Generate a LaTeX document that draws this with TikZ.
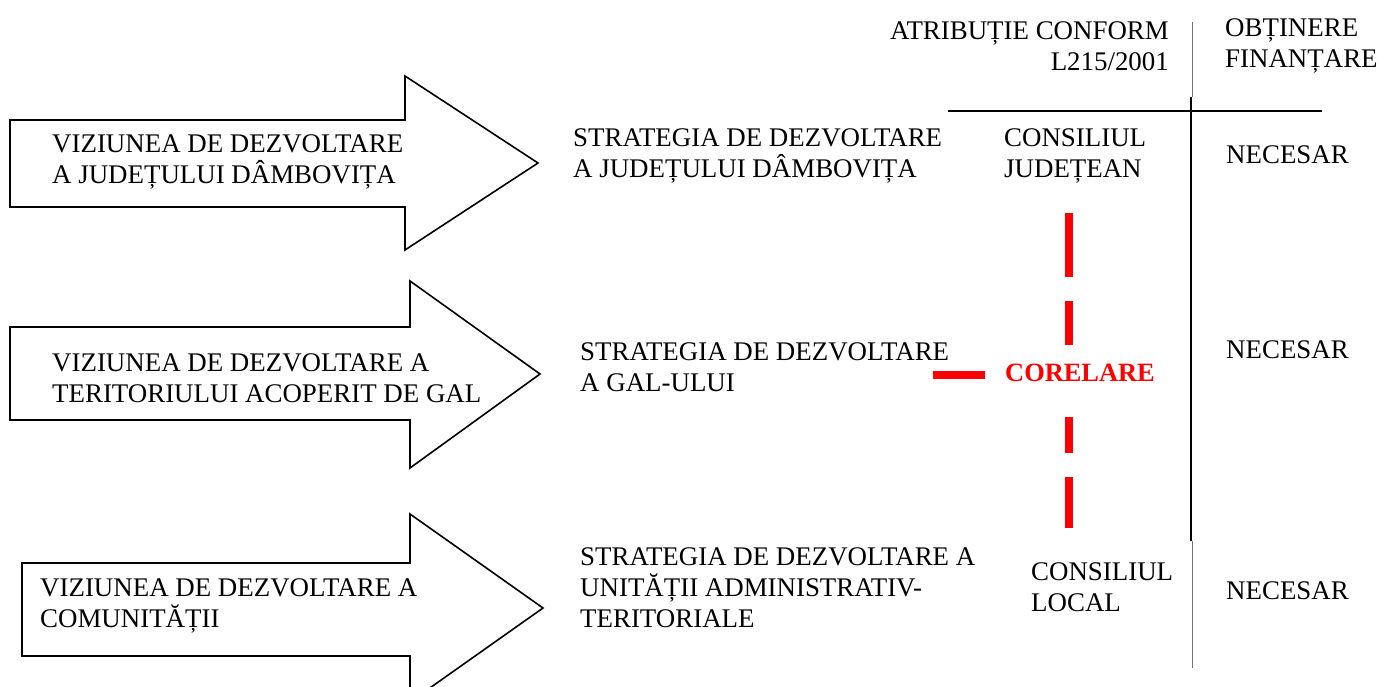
\documentclass[tikz,border=0pt]{standalone}
\usepackage{fontspec}
\setmainfont{Liberation Serif}
\begin{document}
\begin{tikzpicture}[x=1pt,y=-1pt,
  txt/.style={inner sep=0pt,align=left,font=\fontsize{26.9}{31}\selectfont},
  txtr/.style={inner sep=0pt,align=right,font=\fontsize{26.9}{31}\selectfont},
  bigarrow/.style={draw=black,line width=1.6pt,fill=white,line join=miter},
  redline/.style={draw=red,line width=7.5pt},
  thinrule/.style={draw=black!55,line width=1pt},
  thickrule/.style={draw=black,line width=2pt}]
\useasboundingbox (0,0) rectangle (1379,686);
% arrows
\draw[bigarrow] (10,120) -- (405,120) -- (405,76) -- (538,163) -- (405,250) -- (405,207) -- (10,207) -- cycle;
\draw[bigarrow] (10,327) -- (410,327) -- (410,281) -- (540,374) -- (410,468) -- (410,420) -- (10,420) -- cycle;
\draw[bigarrow] (22,563) -- (410,563) -- (410,514) -- (543,608) -- (410,702) -- (410,656) -- (22,656) -- cycle;
% arrow texts
\node[txt,anchor=west] (v1) at (52,162) {VIZIUNEA DE DEZVOLTARE\\A JUDEȚULUI DÂMBOVIȚA};
\node[txt,anchor=west] (v2) at (52,378) {VIZIUNEA DE DEZVOLTARE A\\TERITORIULUI ACOPERIT DE GAL};
\node[txt,anchor=west] (v3) at (40,606) {VIZIUNEA DE DEZVOLTARE A\\COMUNITĂȚII};
% strategies
\node[txt,anchor=west] (s1) at (573,156) {STRATEGIA DE DEZVOLTARE\\A JUDEȚULUI DÂMBOVIȚA};
\node[txt,anchor=west] (s2) at (580,367) {STRATEGIA DE DEZVOLTARE\\A GAL-ULUI};
\node[txt,anchor=west] (s3) at (580,588) {STRATEGIA DE DEZVOLTARE A\\UNITĂȚII ADMINISTRATIV-\\TERITORIALE};
% header
\node[txtr,anchor=east] (h1) at (1169,46) {ATRIBUȚIE CONFORM\\L215/2001};
\node[txt,anchor=west] (h2) at (1225,46) {OBȚINERE\\FINANȚARE};
% councils
\node[txt,anchor=west] (c1) at (1004,156) {CONSILIUL\\JUDEȚEAN};
\node[txt,anchor=west] (c3) at (1031,587) {CONSILIUL\\LOCAL};
% necesar
\node[txt,anchor=west] (n1) at (1226,155) {NECESAR};
\node[txt,anchor=west] (n2) at (1226,350) {NECESAR};
\node[txt,anchor=west] (n3) at (1226,591) {NECESAR};
% corelare
\node[txt,anchor=west,text=red,font=\fontsize{26.4}{31}\selectfont\bfseries] (cor) at (1005,373) {CORELARE};
% rules
\coordinate (vt) at (1192,22);
\coordinate (vm1) at (1191,97);
\coordinate (vm2) at (1191,541);
\coordinate (vb) at (1192,668);
\draw[thinrule] (vt) -- (1192,97);
\draw[thickrule] (vm1) -- (vm2);
\draw[thinrule] (1192,541) -- (vb);
\coordinate (hl) at (948,111);
\coordinate (hr) at (1322,111);
\draw[line width=1.8pt] (hl) -- (hr);
% red correlation marks
\coordinate (rh1) at (933,375);
\coordinate (rh2) at (985,375);
\draw[redline] (rh1) -- (rh2);
\draw[redline] (1069,213) -- (1069,277);
\draw[redline] (1069,301) -- (1069,345);
\draw[redline] (1069,417) -- (1069,453);
\draw[redline] (1069,477) -- (1069,528);
\end{tikzpicture}
\end{document}
